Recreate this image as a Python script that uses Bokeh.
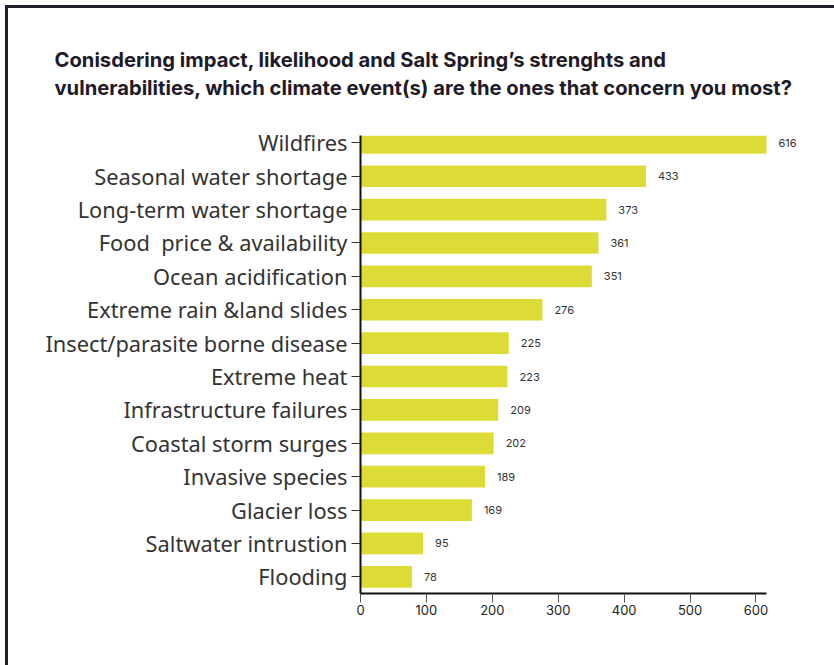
from bokeh.plotting import figure
from bokeh.models import Range1d, FixedTicker, Title, ColumnDataSource
from bokeh.layouts import column
from bokeh.core.properties import value
from bokeh.embed import file_html
from bokeh.resources import INLINE

# ---- data (top to bottom as shown) ----
categories = [
    "Wildfires", "Seasonal water shortage", "Long-term water shortage",
    "Food\u00a0 price & availability", "Ocean acidification", "Extreme rain &land slides",
    "Insect/parasite borne disease", "Extreme heat", "Infrastructure failures",
    "Coastal storm surges", "Invasive species", "Glacier loss",
    "Saltwater intrustion", "Flooding",
]
counts = [616, 433, 373, 361, 351, 276, 225, 223, 209, 202, 189, 169, 95, 78]
x_ticks = [0, 100, 200, 300, 400, 500, 600]
title_lines = [
    "Conisdering impact, likelihood and Salt Spring\u2019s strenghts and",
    "vulnerabilities, which climate event(s) are the ones that concern you most?",
]

n = len(categories)
pos = [n - 1 - i for i in range(n)]  # Wildfires on top

src = ColumnDataSource(dict(cat=categories, val=counts, pos=pos,
                            lbl=[str(v) for v in counts]))

W, H = 826, 657
axis_max = 616
px_per_x = (766 - 360) / axis_max
x_end = (834 - 360) / px_per_x

p = figure(width=W, height=H, output_backend="svg", toolbar_location=None,
           x_range=Range1d(0, x_end), y_range=Range1d(-0.5, n - 0.78),
           min_border_left=352, min_border_right=0, min_border_top=127,
           min_border_bottom=72)
p.outline_line_color = None
p.grid.visible = False
p.background_fill_color = "white"
p.border_fill_color = "white"

p.hbar(y="pos", right="val", left=0, height=0.65, source=src,
       fill_color="#dddb36", line_color=None)

p.text(x="val", y="pos", text="lbl", source=src, x_offset=12,
       text_baseline="middle", text_align="left",
       text_font=value("Inter"), text_font_size="11px", text_color="#333333")

# y axis
ya = p.yaxis[0]
ya.ticker = FixedTicker(ticks=pos)
ya.major_label_overrides = {pp: c for pp, c in zip(pos, categories)}
ya.axis_line_color = "#111111"
ya.axis_line_width = 2
ya.major_tick_line_color = "#333333"
ya.major_tick_out = 9
ya.major_tick_in = 0
ya.minor_tick_line_color = None
ya.major_label_text_font = "Noto Sans"
ya.major_label_text_font_size = "21.8px"
ya.major_label_text_color = "#333333"
ya.major_label_standoff = 4

# x axis
xa = p.xaxis[0]
xa.ticker = FixedTicker(ticks=x_ticks)
xa.bounds = (0, axis_max)
xa.axis_line_color = "#111111"
xa.axis_line_width = 2
xa.major_tick_line_color = "#555555"
xa.major_tick_out = 9
xa.major_tick_in = 0
xa.minor_tick_line_color = None
xa.major_label_text_font = "Inter"
xa.major_label_text_font_size = "13px"
xa.major_label_text_color = "#222222"
xa.major_label_standoff = 2

# title (two lines in one title)
p.title = Title(text="\n".join(title_lines), text_font="Inter",
                text_font_style="bold", text_font_size="20.2px",
                text_color="#1e1a28", align="left", offset=-306, standoff=71,
                text_line_height=1.13)

layout = column(p, styles={"border-left": "3px solid #231f2a",
                           "border-top": "3px solid #231f2a",
                           "margin-left": "5px", "margin-top": "5px"})

open("out.html", "w").write(file_html(layout, INLINE))
